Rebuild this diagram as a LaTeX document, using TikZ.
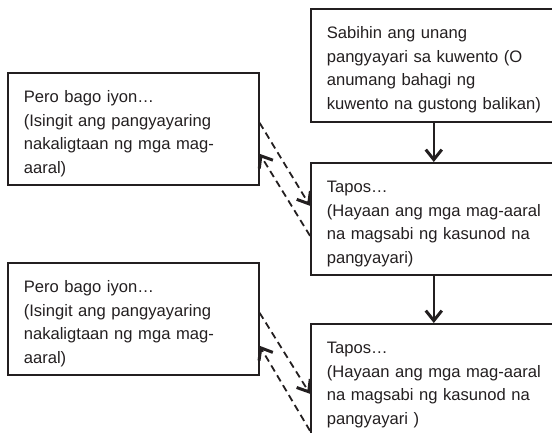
\documentclass[tikz,border=0pt]{standalone}
\usepackage{fontspec}
\setmainfont{Liberation Sans}
\usetikzlibrary{arrows.meta}
\definecolor{ink}{HTML}{231F20}

\begin{document}
\begin{tikzpicture}[x=1pt,y=-1pt,
    box/.style={draw=ink, line width=1.6pt, anchor=north west, align=left,
        inner xsep=16pt, inner ysep=0pt, text height=30pt, text depth=82pt,
        font=\fontsize{16.6}{23.5}\selectfont, text=ink},
    flow/.style={draw=ink, line width=1.8pt,
        -{Straight Barb[length=10pt,width=16pt,line width=3pt]}},
    back/.style={flow, dash pattern=on 7pt off 4.5pt}]
    \clip (0,0) rectangle (552,432);

    % Right column
    \node[box, text width=222pt, text depth=83pt] (sabihin) at (310,8)
        {Sabihin ang unang\\pangyayari sa kuwento (O\\anumang bahagi ng\\kuwento na gustong balikan)};
    \node[box, text width=222pt] (tapos1) at (310,162)
        {Tapos…\\(Hayaan ang mga mag-aaral\\na magsabi ng kasunod na\\pangyayari)};
    \node[box, text width=222pt, text depth=110pt] (tapos2) at (310,323)
        {Tapos…\\(Hayaan ang mga mag-aaral\\na magsabi ng kasunod na\\pangyayari )};

    % Left column
    \node[box, text width=219pt] (pero1) at (7,72)
        {Pero bago iyon…\\(Isingit ang pangyayaring\\nakaligtaan ng mga mag-\\aaral)};
    \node[box, text width=219pt] (pero2) at (7,262)
        {Pero bago iyon…\\(Isingit ang pangyayaring\\nakaligtaan ng mga mag-\\aaral)};

    % Arrows down
    \draw[flow] ([xshift=-4pt]sabihin.south) -- ([xshift=-4pt]tapos1.north);
    \draw[flow] ([xshift=-4pt]tapos1.south) -- ([xshift=-4pt]tapos2.north);

    % Dashed arrows back and forth
    \draw[back] ([yshift=6pt]pero1.east) -- ([yshift=13pt]tapos1.west);
    \draw[back] ([yshift=-17pt]tapos1.west) -- ([yshift=-25pt]pero1.east);
    \draw[back] ([yshift=6pt]pero2.east) -- (tapos2.west);
    \draw[back] ([yshift=-37pt]tapos2.west) -- ([yshift=-27pt]pero2.east);

\end{tikzpicture}
\end{document}
